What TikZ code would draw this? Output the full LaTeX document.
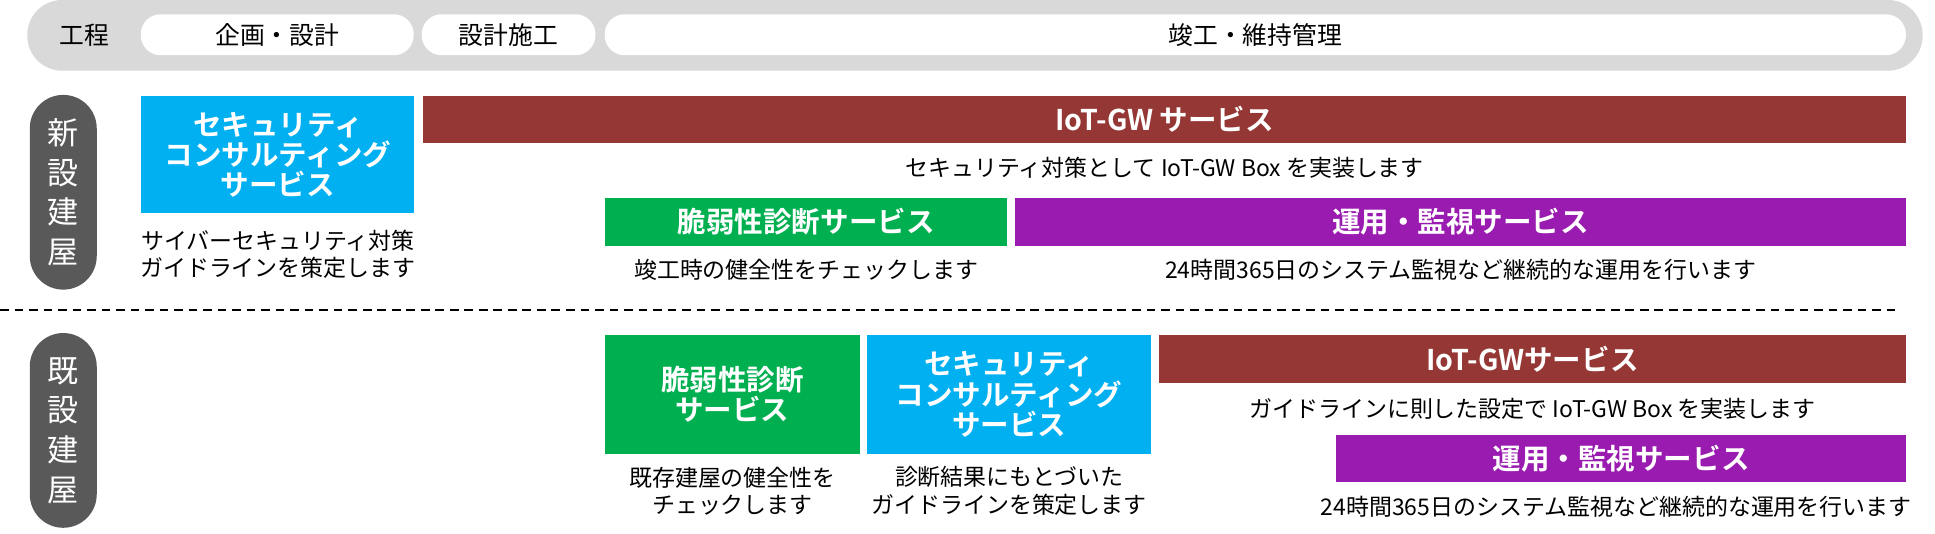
\documentclass[tikz,border=0pt]{standalone}
\usepackage{fontspec}
\setmainfont{Noto Sans CJK JP}[BoldFont={Noto Sans CJK JP Bold}]
\usepackage{xcolor}
\usepackage{tikz}
\usetikzlibrary{positioning}

\definecolor{bargray}{HTML}{D9D9D9}
\definecolor{pillgray}{HTML}{595959}
\definecolor{gwred}{HTML}{953735}
\definecolor{consblue}{HTML}{00B0F0}
\definecolor{diaggreen}{HTML}{00B050}
\definecolor{opspurple}{HTML}{9A1BB0}

\tikzset{
  phase/.style={fill=white,rounded corners=16pt,minimum height=33pt,inner sep=0pt,font=\fontsize{20}{22}\selectfont},
  rowlabel/.style={fill=pillgray,text=white,rounded corners=27pt,minimum width=54pt,minimum height=157pt,inner sep=0pt,align=center,font=\fontsize{25}{32}\selectfont},
  service/.style={text=white,inner sep=0pt,align=center,font=\bfseries\fontsize{23}{24.5}\selectfont},
  note/.style={inner sep=0pt,align=center,font=\fontsize{18.5}{22.5}\selectfont},
}

\begin{document}
\begin{tikzpicture}[x=1pt,y=-1pt]
	\useasboundingbox (0,0) rectangle (1560,430.5);
	% process header
	\fill[bargray,rounded corners=28pt] (22,0) rectangle (1550,57);
	\node[inner sep=0pt,font=\fontsize{20}{22}\selectfont] (koutei) at (68,28) {工程};
	\node[phase,minimum width=220pt] (plan) at (223.5,28) {企画・設計};
	\node[phase,minimum width=140pt] (build) at (410,28) {設計施工};
	\node[phase,minimum width=1049pt] (maint) at (1012,28) {竣工・維持管理};

	% new buildings
	\node[rowlabel] (newb) at (51,155) {新\\設\\建\\屋};
	\node[service,fill=consblue,minimum width=220pt,minimum height=94.5pt] (cons1) at (224,124.75) {セキュリティ\\コンサルティング\\サービス};
	\node[note] (cons1txt) at (224,205) {サイバーセキュリティ対策\\ガイドラインを策定します};
	\node[service,fill=gwred,minimum width=1196pt,minimum height=37.5pt] (gw1) at (939,96.25) {IoT-GW サービス};
	\node[note] (gw1txt) at (939,135) {セキュリティ対策として IoT-GW Box を実装します};
	\node[service,fill=diaggreen,minimum width=324pt,minimum height=38pt] (diag1) at (650,179) {脆弱性診断サービス};
	\node[note] (diag1txt) at (650,217.5) {竣工時の健全性をチェックします};
	\node[service,fill=opspurple,minimum width=719pt,minimum height=38pt] (ops1) at (1177.5,179) {運用・監視サービス};
	\node[note] (ops1txt) at (1177.5,217.5) {24時間365日のシステム監視など継続的な運用を行います};

	% divider
	\coordinate (divL) at (0,250);
	\coordinate (divR) at (1531,250);
	\draw[black,line width=1.3pt,dash pattern=on 7pt off 4.7pt] (divL) -- (divR);

	% existing buildings
	\node[rowlabel] (oldb) at (51,347) {既\\設\\建\\屋};
	\node[service,fill=diaggreen,minimum width=205pt,minimum height=96pt] (diag2) at (590.5,318) {脆弱性診断\\サービス};
	\node[note] (diag2txt) at (590.5,396) {既存建屋の健全性を\\チェックします};
	\node[service,fill=consblue,minimum width=229pt,minimum height=96pt] (cons2) at (813.5,318) {セキュリティ\\コンサルティング\\サービス};
	\node[note] (cons2txt) at (813.5,396) {診断結果にもとづいた\\ガイドラインを策定します};
	\node[service,fill=gwred,minimum width=603pt,minimum height=38.5pt] (gw2) at (1235.5,289.5) {IoT-GWサービス};
	\node[note] (gw2txt) at (1235.5,330) {ガイドラインに則した設定で IoT-GW Box を実装します};
	\node[service,fill=opspurple,minimum width=460pt,minimum height=38pt] (ops2) at (1307,369.5) {運用・監視サービス};
	\node[note] (ops2txt) at (1303,408.5) {24時間365日のシステム監視など継続的な運用を行います};
\end{tikzpicture}
\end{document}
